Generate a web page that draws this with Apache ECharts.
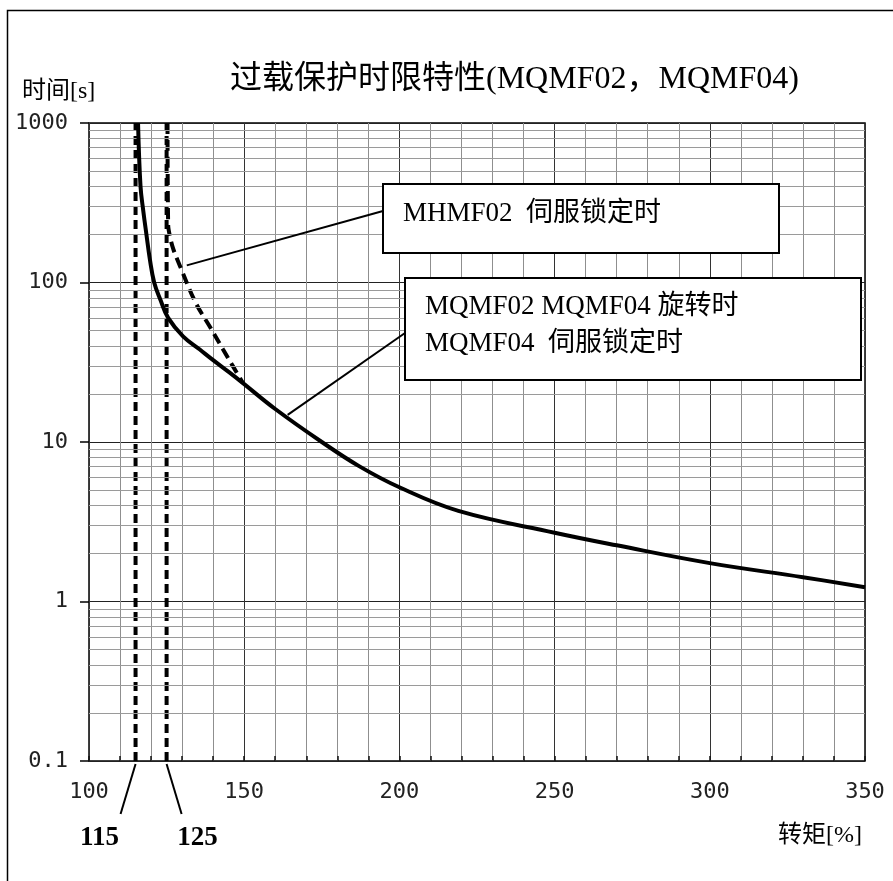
<!DOCTYPE html>
<html>
<head>
<meta charset="utf-8">
<script src="https://cdn.jsdelivr.net/npm/echarts@6/dist/echarts.min.js"></script>
<style>
html,body{margin:0;padding:0;background:#fff;}
#chart{width:893px;height:881px;}
</style>
</head>
<body>
<div id="chart"></div>
<script>
// ---- data ----
const titleText = '过载保护时限特性(MQMF02，MQMF04)';
const yAxisName = '时间[s]';
const xAxisName = '转矩[%]';
const xRange = [100, 350];
const yRange = [0.1, 1000];
const xTickStep = 50;
const yTickLabels = {'0.1': '0.1', '1': '1', '10': '10', '100': '100', '1000': '1000'};
const minorDecades = [0.1, 1, 10, 100];
const minorMultipliers = [2, 3, 4, 5, 6, 7, 8, 9];

// solid curve: MQMF02 MQMF04 旋转时 / MQMF04 伺服锁定时
const solidTorque = [115.8, 116.6, 117.5, 118.5, 119.6, 121, 123, 125.5, 130.3, 135.7, 140, 145, 149.6, 160, 175, 187, 200, 219, 250, 270, 300, 330, 350];
const solidTime   = [1000, 400, 280, 200, 140, 100, 78, 60, 46, 38, 32.6, 27.5, 23.4, 16.1, 10, 7.06, 5.2, 3.7, 2.7, 2.25, 1.74, 1.42, 1.23];

// dashed curve: MHMF02 伺服锁定时
const dashTorque = [125.3, 125.5, 126.2, 127.2, 129.3, 134.3, 138.9, 143.2, 146.4, 149.6];
const dashTime   = [1000, 230, 190, 161, 127, 75, 53, 38, 29.8, 23.4];

// vertical reference lines
const refTorques = [115, 125];
const refLabels = ['115', '125'];

// annotation labels
const box1Lines = ['MHMF02  伺服锁定时'];
const box2Lines = ['MQMF02 MQMF04 旋转时', 'MQMF04  伺服锁定时'];
// leader anchor points on curves (data coords)
const leader1Anchor = [131.5, 128];
const leader2Anchor = [164, 14.8];

// ---- chart ----
const chart = echarts.init(document.getElementById('chart'), null, {renderer: 'canvas'});
const zip = (a, b) => a.map((v, i) => [v, b[i]]);
const minorY = [];
minorDecades.forEach(d => minorMultipliers.forEach(m => minorY.push(+(d * m).toPrecision(6))));

const serifFont = "'Liberation Serif', 'Times New Roman', 'Noto Sans CJK SC', serif";
const tickFont = "'DejaVu Sans Mono', 'Liberation Mono', monospace";

const grid = {left: 89, top: 123, right: 28, bottom: 120};

const series = [
  {
    type: 'line', data: [[xRange[0], 1]], symbol: 'none', silent: true,
    lineStyle: {opacity: 0}, z: 1,
    markLine: {
      silent: true, symbol: 'none', animation: false,
      label: {show: false},
      lineStyle: {color: '#9a9a9a', width: 1, type: 'solid'},
      data: minorY.map(v => ({yAxis: v}))
    }
  }
];
refTorques.forEach(t => {
  series.push({
    type: 'line', data: [[t, yRange[0]], [t, yRange[1]]], symbol: 'none', silent: true, z: 4,
    lineStyle: {color: '#000', width: 4, type: [9, 5]}
  });
});
series.push({
  type: 'line', data: zip(dashTorque, dashTime), symbol: 'none', smooth: 0.35, silent: true, z: 4,
  lineStyle: {color: '#000', width: 4, type: [11, 6]}
});
series.push({
  type: 'line', data: zip(solidTorque, solidTime), symbol: 'none', smooth: 0.4, silent: true, z: 5,
  lineStyle: {color: '#000', width: 4}
});

chart.setOption({
  animation: false,
  backgroundColor: '#fff',
  grid: Object.assign({show: true, borderColor: '#000', borderWidth: 1.5, backgroundColor: 'transparent'}, grid),
  xAxis: {
    type: 'value', min: xRange[0], max: xRange[1], interval: xTickStep,
    axisLine: {show: false},
    axisTick: {show: true, inside: true, length: 5, lineStyle: {color: '#111', width: 1.5}},
    minorTick: {show: true, splitNumber: 5, length: 5, lineStyle: {color: '#111', width: 1.5}},
    axisLabel: {margin: 20, fontSize: 22, color: '#222', fontFamily: tickFont},
    splitLine: {show: true, lineStyle: {color: '#333', width: 1}},
    minorSplitLine: {show: true, lineStyle: {color: '#8f8f8f', width: 1}}
  },
  yAxis: {
    type: 'log', logBase: 10, min: yRange[0], max: yRange[1],
    axisLine: {show: false},
    axisTick: {show: true, inside: false, length: 9, lineStyle: {color: '#000', width: 1.5}},
    axisLabel: {
      margin: 21, fontSize: 22, color: '#222', fontFamily: tickFont,
      formatter: v => yTickLabels[String(+v.toPrecision(6))] || String(v)
    },
    splitLine: {show: true, lineStyle: {color: '#222', width: 1}},
    minorTick: {show: false}
  },
  series: series
});

function px(p) { return chart.convertToPixel({gridIndex: 0}, p); }

const g = [];
// outer frame (top + left visible)
g.push({type: 'rect', shape: {x: 7.5, y: 10.5, width: 1000, height: 1000}, style: {fill: 'none', stroke: '#000', lineWidth: 1.5}, z: 0, silent: true});
// title
g.push({type: 'text', x: 230, y: 80, style: {text: titleText, font: '32px ' + serifFont, fill: '#000', verticalAlign: 'middle', align: 'left'}, z: 10});
// axis names
g.push({type: 'text', x: 22, y: 92, style: {text: yAxisName, font: '24px ' + serifFont, fill: '#000', verticalAlign: 'middle', align: 'left'}, z: 10});
g.push({type: 'text', x: 778, y: 836, style: {text: xAxisName, font: '24px ' + serifFont, fill: '#000', verticalAlign: 'middle', align: 'left'}, z: 10});

// reference labels with leaders
const leaderDx = [-15, 15];
refTorques.forEach((t, i) => {
  const p = px([t, yRange[0]]);
  const x0 = p[0], y0 = p[1] + 3;
  const x1 = x0 + leaderDx[i], y1 = y0 + 50;
  g.push({type: 'line', shape: {x1: x0, y1: y0, x2: x1, y2: y1}, style: {stroke: '#000', lineWidth: 2}, z: 10});
  g.push({type: 'text', x: x1 + (i === 0 ? -21 : 16), y: y1 + 24, style: {text: refLabels[i], font: 'bold 27px ' + serifFont, fill: '#000', align: 'center', verticalAlign: 'middle'}, z: 10});
});

// annotation box 1
const b1 = {x: 383, y: 184, w: 396, h: 69};
const a1 = px(leader1Anchor);
g.push({type: 'line', shape: {x1: a1[0], y1: a1[1], x2: b1.x, y2: 211}, style: {stroke: '#000', lineWidth: 2}, z: 10});
g.push({type: 'rect', shape: {x: b1.x, y: b1.y, width: b1.w, height: b1.h}, style: {fill: '#fff', stroke: '#000', lineWidth: 2}, z: 11});
g.push({type: 'text', x: 403, y: 214, style: {text: box1Lines[0], font: '27px ' + serifFont, fill: '#000', verticalAlign: 'middle'}, z: 12});

// annotation box 2
const b2 = {x: 405, y: 278, w: 456, h: 102};
const a2 = px(leader2Anchor);
g.push({type: 'line', shape: {x1: a2[0], y1: a2[1], x2: b2.x, y2: 333}, style: {stroke: '#000', lineWidth: 2}, z: 10});
g.push({type: 'rect', shape: {x: b2.x, y: b2.y, width: b2.w, height: b2.h}, style: {fill: '#fff', stroke: '#000', lineWidth: 2}, z: 11});
box2Lines.forEach((s, i) => {
  g.push({type: 'text', x: 425, y: 307 + i * 37, style: {text: s, font: '27px ' + serifFont, fill: '#000', verticalAlign: 'middle'}, z: 12});
});

chart.setOption({graphic: g});
</script>
</body>
</html>
